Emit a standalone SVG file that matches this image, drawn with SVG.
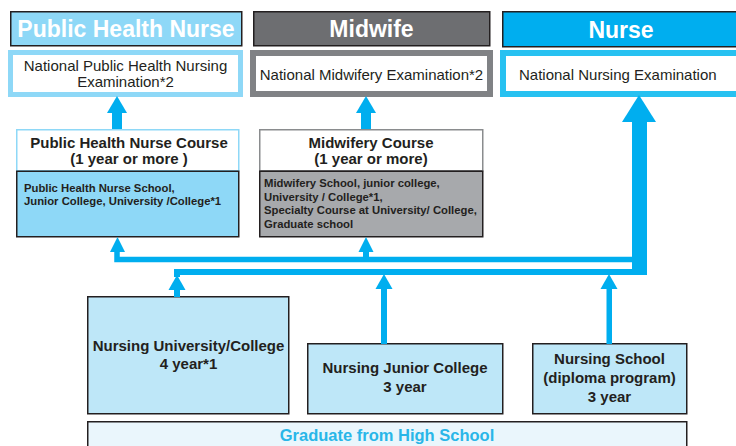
<svg xmlns="http://www.w3.org/2000/svg" width="736" height="446" viewBox="0 0 736 446">
<style>
text{font-family:"Liberation Sans",Arial,Helvetica,sans-serif;fill:#231f20}
.hd{font-size:23px;font-weight:bold;fill:#fff;text-anchor:middle}
.ex{font-size:15px;text-anchor:middle}
.ct{font-size:15px;font-weight:bold;text-anchor:middle}
.sm{font-size:11.3px;font-weight:bold}
.bx{font-size:15px;font-weight:bold;text-anchor:middle}
.flow{fill:#00aeef}
.line{fill:none;stroke:#00aeef;stroke-linejoin:miter}
.dk{stroke:#231f20;stroke-width:1.5}
.nb{fill:#bee7f8;stroke:#231f20;stroke-width:1.5}
</style>
<rect width="736" height="446" fill="#fff"/>

<g id="phn-header">
<rect x="10.75" y="11.75" width="231" height="34" fill="#8ed8f7" class="dk"/>
<text class="hd" x="126" y="37">Public Health Nurse</text>
</g>
<g id="phn-exam">
<rect x="10.5" y="52.5" width="230" height="42" fill="#fff" stroke="#8ed8f7" stroke-width="5"/>
<text class="ex" x="125.5" y="71">National Public Health Nursing</text>
<text class="ex" x="125.5" y="87">Examination*2</text>
</g>

<g id="midwife-header">
<rect x="253.75" y="11.75" width="236" height="34" fill="#6d6e71" class="dk"/>
<text class="hd" x="371.5" y="37">Midwife</text>
</g>
<g id="midwife-exam">
<rect x="253" y="53" width="237" height="41" fill="#fff" stroke="#808285" stroke-width="6"/>
<text class="ex" x="371.5" y="80">National Midwifery Examination*2</text>
</g>

<g id="nurse-header">
<rect x="502.75" y="11.75" width="240" height="35" fill="#00aeef" class="dk"/>
<text class="hd" x="621" y="37.5">Nurse</text>
</g>
<g id="nurse-exam">
<rect x="503" y="53" width="245" height="41" fill="#fff" stroke="#27c1f1" stroke-width="6"/>
<text class="ex" x="519" y="80" style="text-anchor:start">National Nursing Examination</text>
</g>

<g id="phn-course">
<rect x="16.75" y="129.75" width="222" height="41" fill="#fff" stroke="#8ed8f7" stroke-width="1.5"/>
<rect x="16.75" y="171.25" width="222" height="65.5" fill="#8ed8f7" class="dk"/>
<text class="ct" x="129" y="147.5">Public Health Nurse Course</text>
<text class="ct" x="129" y="163.5">(1 year or more )</text>
<text class="sm" x="24" y="192">Public Health Nurse School,</text>
<text class="sm" x="24" y="205">Junior College, University /College*1</text>
</g>

<g id="midwifery-course">
<rect x="259.75" y="129.75" width="223" height="41" fill="#fff" stroke="#8a8c8e" stroke-width="1.5"/>
<rect x="259.75" y="171.25" width="223" height="65.5" fill="#a7a9ac" class="dk"/>
<text class="ct" x="371" y="147.5">Midwifery Course</text>
<text class="ct" x="371" y="163.5">(1 year or more)</text>
<text class="sm" x="264" y="187">Midwifery School, junior college,</text>
<text class="sm" x="264" y="200.5">University / College*1,</text>
<text class="sm" x="264" y="214">Specialty Course at University/ College,</text>
<text class="sm" x="264" y="227.5">Graduate school</text>
</g>

<g id="nursing-university">
<rect x="87.75" y="296.75" width="201" height="117" class="nb"/>
<text class="bx" x="188.5" y="351">Nursing University/College</text>
<text class="bx" x="188.5" y="369">4 year*1</text>
</g>

<g id="nursing-junior-college">
<rect x="307.75" y="343.75" width="195" height="70" class="nb"/>
<text class="bx" x="405" y="373">Nursing Junior College</text>
<text class="bx" x="405" y="392">3 year</text>
</g>

<g id="nursing-school">
<rect x="532.75" y="343.75" width="154" height="70" class="nb"/>
<text class="bx" x="609.5" y="364">Nursing School</text>
<text class="bx" x="609.5" y="383">(diploma program)</text>
<text class="bx" x="609.5" y="402">3 year</text>
</g>

<g id="high-school">
<rect x="87.75" y="421.75" width="599" height="40" fill="#eaf6fc" stroke="#231f20" stroke-width="1.5"/>
<text x="387" y="441" font-size="16.5" font-weight="bold" text-anchor="middle" style="fill:#29b6e8">Graduate from High School</text>
</g>

<g id="connectors">
<rect class="flow" x="112" y="111" width="10" height="18"/>
<polygon class="flow" points="107,113 127,113 117,96"/>
<rect class="flow" x="361" y="111" width="10" height="18"/>
<polygon class="flow" points="356,113 376,113 366,96"/>
<rect class="flow" x="632" y="120" width="15" height="155"/>
<polygon class="flow" points="622,122 656,122 639,95"/>
<path class="line" d="M117 251 V259.5 H634" stroke-width="5.5"/>
<polygon class="flow" points="110,252 125,252 117.5,237"/>
<rect class="flow" x="363" y="250" width="6" height="9"/>
<polygon class="flow" points="358.5,252 373.5,252 366,237"/>
<path class="line" d="M177 277 V272 H640" stroke-width="6"/>
<rect class="flow" x="174" y="288" width="6" height="9"/>
<polygon class="flow" points="168.5,290 185.5,290 177,275"/>
<rect class="flow" x="381" y="288" width="6" height="56"/>
<polygon class="flow" points="375.5,289 392.5,289 384,274"/>
<rect class="flow" x="606.5" y="288" width="5.5" height="56"/>
<polygon class="flow" points="600.5,289 617.5,289 609,274"/>
</g>
</svg>
